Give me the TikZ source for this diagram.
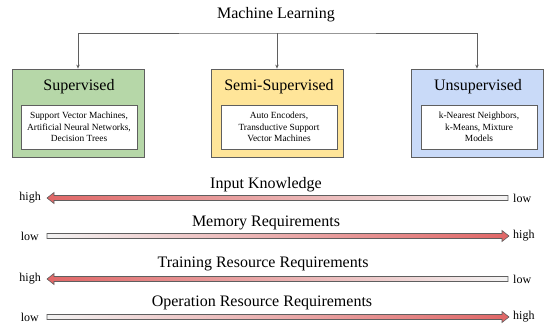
\documentclass[tikz,border=0pt]{standalone}
\usepackage{fontspec}
\setmainfont{Liberation Serif}
\usepackage{xcolor}
\usepackage{tikz}
\usetikzlibrary{arrows.meta}
\definecolor{edge}{HTML}{5F5F5F}
\definecolor{supgreen}{HTML}{B6D7A8}
\definecolor{semiyellow}{HTML}{FFE599}
\definecolor{unsblue}{HTML}{C9DAF8}
\definecolor{hired}{HTML}{E06666}
\definecolor{logray}{HTML}{F3F3F3}

\begin{document}
\begin{tikzpicture}[x=1pt, y=-1pt, every node/.style={font=\fontsize{16}{19}\selectfont},
  group/.style={draw=edge, line width=0.8pt, minimum width=132pt, minimum height=88pt, inner sep=0pt},
  algos/.style={draw=edge, fill=white, line width=0.6pt, minimum width=116pt, minimum height=44pt,
    align=center, inner sep=0pt, font=\fontsize{9.4}{11.7}\selectfont},
  bar/.style={draw=edge, line width=0.6pt},
  lvl/.style={inner sep=0pt, font=\fontsize{12}{14}\selectfont}]
  \useasboundingbox (0,0) rectangle (549,327);

  \node (ml) at (276,15) {Machine Learning};

  \node[group, fill=supgreen] (sup) at (78,113) {};
  \node[group, fill=semiyellow] (semi) at (277,113) {};
  \node[group, fill=unsblue] (uns) at (477,113) {};

  \node (suptitle) at (79,87) {Supervised};
  \node (semititle) at (279,87) {Semi-Supervised};
  \node (unstitle) at (478,87) {Unsupervised};

  \node[algos] (supalgos) at (79,127) {Support Vector Machines,\\Artificial Neural Networks,\\Decision Trees};
  \node[algos] (semialgos) at (279,127) {Auto Encoders,\\Transductive Support\\Vector Machines};
  \node[algos] (unsalgos) at (479,127) {k-Nearest Neighbors,\\k-Means, Mixture\\Models};

  % tree
  \coordinate (bar) at (277,33);
  \draw[edge, line width=0.7pt, {Stealth[length=4pt,width=3.5pt]}-{Stealth[length=4pt,width=3.5pt]}]
    (sup.north) |- (bar) -| (uns.north);
  \draw[edge, line width=0.7pt, -{Stealth[length=4pt,width=3.5pt]}] (bar) -- (semi.north);

  % scales
  \node (ik) at (266,185) {Input Knowledge};
  \shade[bar, left color=hired, right color=logray]
    (47,198) -- (54,192.5) -- (54,195.5) -- (508,195.5) -- (508,200.5) -- (54,200.5) -- (54,203.5) -- cycle;
  \node[lvl, anchor=east] (ikhigh) at (41,198) {high};
  \node[lvl, anchor=west] (iklow) at (513,198) {low};

  \node (mem) at (266,223) {Memory Requirements};
  \shade[bar, left color=logray, right color=hired]
    (47,233.5) -- (502,233.5) -- (502,230.5) -- (509,236) -- (502,241.5) -- (502,238.5) -- (47,238.5) -- cycle;
  \node[lvl, anchor=east] (memlow) at (39,236) {low};
  \node[lvl, anchor=west] (memhigh) at (513,236) {high};

  \node (train) at (263,264) {Training Resource Requirements};
  \shade[bar, left color=hired, right color=logray]
    (47,279) -- (54,273.5) -- (54,276.5) -- (508,276.5) -- (508,281.5) -- (54,281.5) -- (54,284.5) -- cycle;
  \node[lvl, anchor=east] (trainhigh) at (41,279) {high};
  \node[lvl, anchor=west] (trainlow) at (513,279) {low};

  \node (op) at (262,303) {Operation Resource Requirements};
  \shade[bar, left color=logray, right color=hired]
    (47,314.5) -- (502,314.5) -- (502,311.5) -- (509,317) -- (502,322.5) -- (502,319.5) -- (47,319.5) -- cycle;
  \node[lvl, anchor=east] (oplow) at (39,317) {low};
  \node[lvl, anchor=west] (ophigh) at (513,317) {high};
\end{tikzpicture}
\end{document}
